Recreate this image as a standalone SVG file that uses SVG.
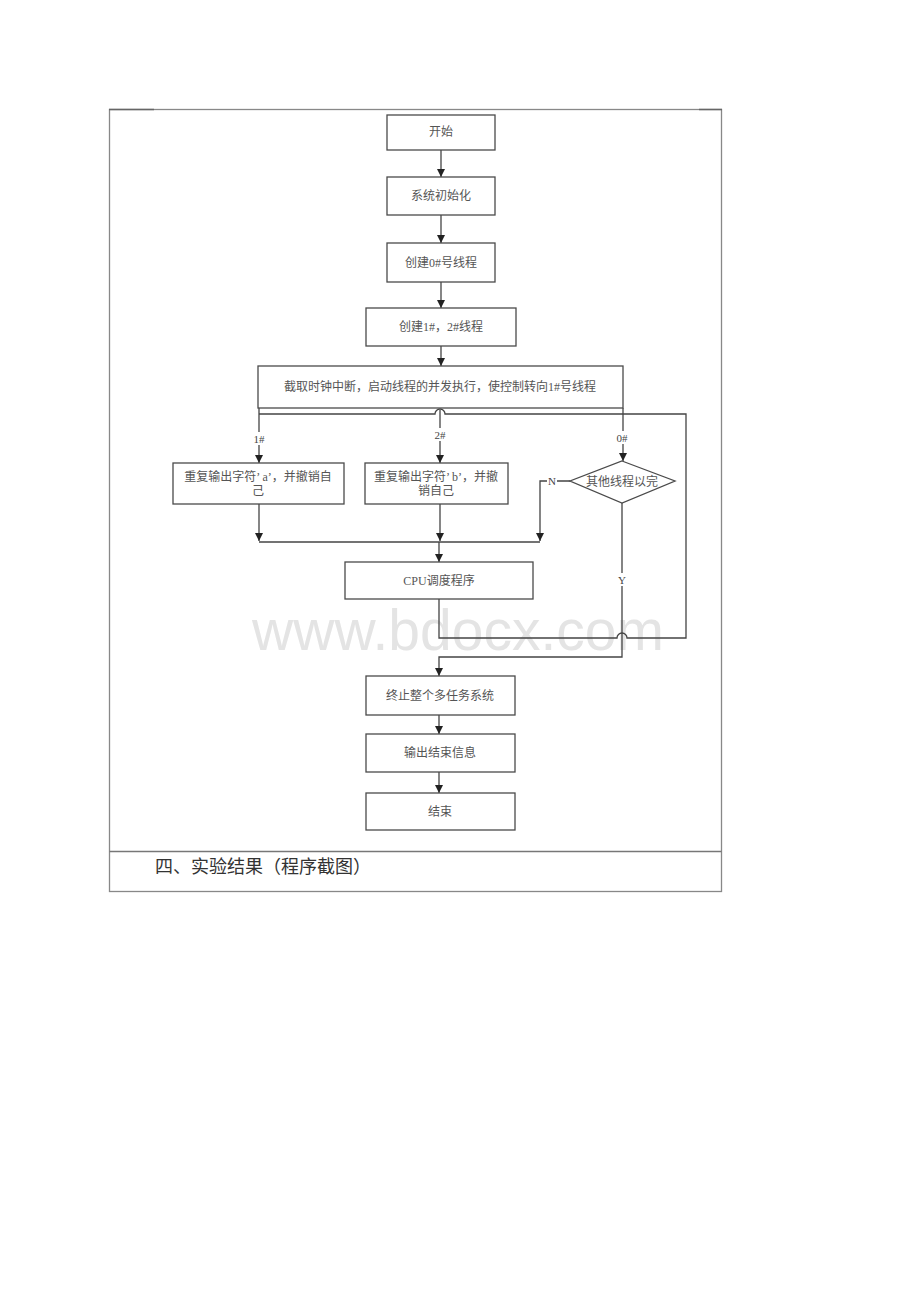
<svg xmlns="http://www.w3.org/2000/svg" width="920" height="1302" viewBox="0 0 920 1302">
<defs>
<style>
.box{fill:#fff;stroke:#4a4a4a;stroke-width:1.3}
.t{font-family:"Liberation Serif","Noto Sans CJK SC",serif;font-size:12px;fill:#555;text-anchor:middle}
.lb{font-family:"Liberation Serif","Noto Sans CJK SC",serif;font-size:11px;fill:#444;text-anchor:middle}
.ln{fill:none;stroke:#444;stroke-width:1.3}
.bg{fill:#fff}
</style>
<marker id="ah" markerUnits="userSpaceOnUse" markerWidth="8" markerHeight="8" refX="8" refY="4" orient="auto">
<path d="M0,0 L8,4 L0,8 z" fill="#222"/>
</marker>
</defs>
<rect width="920" height="1302" fill="#fff"/>
<text x="458" y="650" font-family="Liberation Sans, Arial, sans-serif" font-size="57" fill="#e4e4e4" text-anchor="middle">www.bdocx.com</text>
<g id="frame">
<rect x="109.5" y="109.5" width="612" height="782" fill="none" stroke="#888" stroke-width="1.3"/>
<line x1="109.5" y1="851.5" x2="721.5" y2="851.5" stroke="#777" stroke-width="1.3"/>
<line x1="109" y1="109.5" x2="154" y2="109.5" stroke="#666" stroke-width="1.5"/>
<line x1="699" y1="109.5" x2="722" y2="109.5" stroke="#666" stroke-width="1.5"/>
<text x="155" y="873" font-family="Liberation Serif,'Noto Sans CJK SC',serif" font-size="18" fill="#333">四、实验结果（程序截图）</text>
</g>
<g id="connectors">
<path class="ln" d="M441,150 V177" marker-end="url(#ah)"/>
<path class="ln" d="M441,215 V243" marker-end="url(#ah)"/>
<path class="ln" d="M441,282 V308" marker-end="url(#ah)"/>
<path class="ln" d="M441,346 V366" marker-end="url(#ah)"/>
<path class="ln" d="M439,599 V638 H617 a5,5 0 0 1 10,0 H686 V414 H445 a5,5 0 0 0 -10,0 H259"/>
<path class="ln" d="M259,406 V463" marker-end="url(#ah)"/>
<path class="ln" d="M440,410 V463" marker-end="url(#ah)"/>
<path class="ln" d="M623,408 V461" marker-end="url(#ah)"/>
<path class="ln" d="M622,503 V657 H439 V676" marker-end="url(#ah)"/>
<path class="ln" d="M570,481 H540 V541" marker-end="url(#ah)"/>
<path class="ln" d="M259,504 V541" marker-end="url(#ah)"/>
<path class="ln" d="M440,504 V541" marker-end="url(#ah)"/>
<path class="ln" d="M259,542 H540"/>
<path class="ln" d="M439,542 V562" marker-end="url(#ah)"/>
<path class="ln" d="M439,715 V734" marker-end="url(#ah)"/>
<path class="ln" d="M439,772 V793" marker-end="url(#ah)"/>
<rect class="bg" x="251" y="432" width="16" height="13"/>
<text class="lb" x="259" y="443">1#</text>
<rect class="bg" x="432" y="428" width="16" height="13"/>
<text class="lb" x="440" y="439">2#</text>
<rect class="bg" x="614" y="431" width="17" height="13"/>
<text class="lb" x="622" y="442">0#</text>
<rect class="bg" x="547" y="475" width="10" height="12"/>
<text class="lb" x="552" y="485">N</text>
<rect class="bg" x="617" y="573" width="10" height="13"/>
<text class="lb" x="622" y="584">Y</text>
</g>
<g id="n-start"><rect class="box" x="387" y="115" width="108" height="35"/><text class="t" x="441" y="136">开始</text></g>
<g id="n-init"><rect class="box" x="387" y="177" width="108" height="38"/><text class="t" x="441" y="200">系统初始化</text></g>
<g id="n-create0"><rect class="box" x="387" y="243" width="108" height="39"/><text class="t" x="441" y="267">创建0#号线程</text></g>
<g id="n-create12"><rect class="box" x="366" y="308" width="150" height="38"/><text class="t" x="441" y="331">创建1#，2#线程</text></g>
<g id="n-intr"><rect class="box" x="258" y="366" width="365" height="42"/><text class="t" x="440" y="391">截取时钟中断，启动线程的并发执行，使控制转向1#号线程</text></g>
<g id="n-t1"><rect class="box" x="173" y="463" width="171" height="41"/><text class="t" x="258" y="481">重复输出字符’ a’，并撤销自</text><text class="t" x="258" y="495">己</text></g>
<g id="n-t2"><rect class="box" x="365" y="463" width="143" height="41"/><text class="t" x="436" y="481">重复输出字符’ b’，并撤</text><text class="t" x="436" y="495">销自己</text></g>
<g id="n-dec"><polygon class="box" points="622,461 675,481 622,503 570,481"/><text class="t" x="622" y="485.5">其他线程以完</text></g>
<g id="n-cpu"><rect class="box" x="345" y="562" width="188" height="37"/><text class="t" x="439" y="585">CPU调度程序</text></g>
<g id="n-term"><rect class="box" x="366" y="676" width="149" height="39"/><text class="t" x="440" y="700">终止整个多任务系统</text></g>
<g id="n-msg"><rect class="box" x="366" y="734" width="149" height="38"/><text class="t" x="440" y="757">输出结束信息</text></g>
<g id="n-end"><rect class="box" x="366" y="793" width="149" height="37"/><text class="t" x="440" y="816">结束</text></g>
</svg>
